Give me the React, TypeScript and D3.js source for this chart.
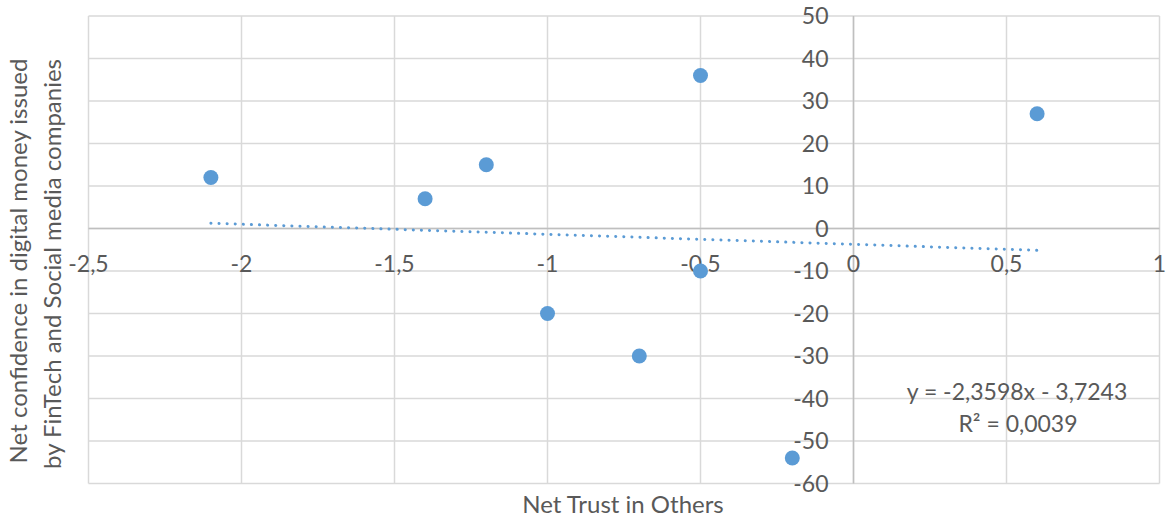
import React from "react";
import * as d3 from "d3";

const xValues = [-2.1, -1.4, -1.2, -1.0, -0.7, -0.5, -0.5, -0.2, 0.6];
const yValues = [12, 7, 15, -20, -30, 36, -10, -54, 27];
const xTicks = [-2.5, -2, -1.5, -1, -0.5, 0, 0.5, 1];
const yTicks = [-60, -50, -40, -30, -20, -10, 0, 10, 20, 30, 40, 50];
const xTitle = "Net Trust in Others";
const yTitleLines = [
  "Net confidence in digital money issued",
  "by FinTech and Social media companies",
];

const W = 1166;
const H = 519;
const FONT = "Lato, 'Open Sans', sans-serif";
const TEXT = "#595959";

const fmt = (v: number, digits?: number) => {
  const s = digits === undefined ? String(v) : v.toFixed(digits);
  return s.replace(".", ",");
};

export default function App() {
  const x = d3.scaleLinear().domain([-2.5, 1]).range([88.5, 1159.5]);
  const y = d3.scaleLinear().domain([-60, 50]).range([483.5, 16]);

  const n = xValues.length;
  const mx = d3.mean(xValues)!;
  const my = d3.mean(yValues)!;
  let sxx = 0, sxy = 0, syy = 0;
  for (let i = 0; i < n; i++) {
    sxx += (xValues[i] - mx) ** 2;
    sxy += (xValues[i] - mx) * (yValues[i] - my);
    syy += (yValues[i] - my) ** 2;
  }
  const slope = sxy / sxx;
  const intercept = my - slope * mx;
  const r2 = (sxy * sxy) / (sxx * syy);
  const xMin = d3.min(xValues)!;
  const xMax = d3.max(xValues)!;
  const trend = d3
    .line<number>()
    .x((d) => x(d))
    .y((d) => y(slope * d + intercept))([xMin, xMax]);

  const eq = `y = ${fmt(slope, 4)}x ${intercept < 0 ? "-" : "+"} ${fmt(Math.abs(intercept), 4)}`;
  const r2Text = `R² = ${fmt(r2, 4)}`;

  return (
    <div style={{ position: "absolute", left: 0, top: 0 }}>
      <svg width={W} height={H} style={{ display: "block", background: "#fff" }}>
        <rect width={W} height={H} fill="#fff" />
        {/* gridlines */}
        {xTicks.map((t) => (
          <line key={"gx" + t} x1={x(t)} x2={x(t)} y1={y(50)} y2={y(-60)} stroke="#d9d9d9" strokeWidth={1.5} />
        ))}
        {yTicks.map((t) => (
          <line key={"gy" + t} x1={x(-2.5)} x2={x(1)} y1={y(t)} y2={y(t)} stroke="#d9d9d9" strokeWidth={1.5} />
        ))}
        {/* axes */}
        <line x1={x(0)} x2={x(0)} y1={y(50)} y2={y(-60)} stroke="#bfbfbf" strokeWidth={1.5} />
        <line x1={x(-2.5)} x2={x(1)} y1={y(0)} y2={y(0)} stroke="#bfbfbf" strokeWidth={1.5} />
        {/* tick labels */}
        {xTicks.map((t) => (
          <text key={"tx" + t} x={x(t)} y={y(0) + 43} textAnchor="middle" fontFamily={FONT} fontSize={23} fill={TEXT}>
            {fmt(t)}
          </text>
        ))}
        {yTicks.map((t) => (
          <text key={"ty" + t} x={x(0) - 25} y={y(t)} dy="0.36em" textAnchor="end" fontFamily={FONT} fontSize={23} fill={TEXT}>
            {fmt(t)}
          </text>
        ))}
        {/* trendline */}
        <path d={trend ?? ""} fill="none" stroke="#5b9bd5" strokeWidth={3} strokeDasharray="0.1 8" strokeLinecap="round" />
        {/* points */}
        {xValues.map((xv, i) => (
          <circle key={"p" + i} cx={x(xv)} cy={y(yValues[i])} r={7.5} fill="#5b9bd5" />
        ))}
        {/* trend label */}
        <text x={1017} y={400} textAnchor="middle" fontFamily={FONT} fontSize={23} fill={TEXT}>
          {eq}
        </text>
        <text x={1018} y={431.5} textAnchor="middle" fontFamily={FONT} fontSize={23} fill={TEXT}>
          {r2Text}
        </text>
        {/* axis titles */}
        <text x={623} y={512.5} textAnchor="middle" fontFamily={FONT} fontSize={24} fill={TEXT}>
          {xTitle}
        </text>
        {yTitleLines.map((l, i) => (
          <text
            key={"yt" + i}
            transform={`translate(${27 + i * 33.5},${261 + i * 3}) rotate(-90)`}
            textAnchor="middle"
            fontFamily={FONT}
            fontSize={24}
            fill={TEXT}
          >
            {l}
          </text>
        ))}
      </svg>
    </div>
  );
}
